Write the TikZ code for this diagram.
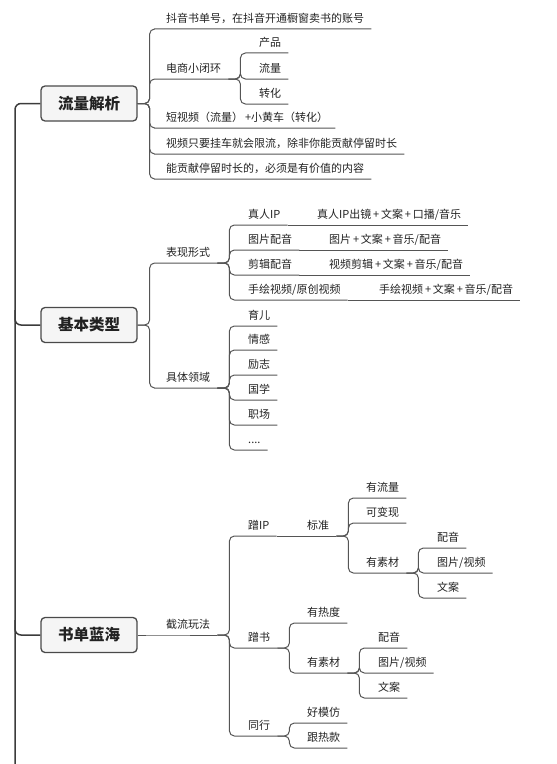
\documentclass[tikz,border=0pt]{standalone}
\usepackage{fontspec}
\setmainfont{Noto Sans CJK SC}
\usetikzlibrary{positioning}

\definecolor{txt}{HTML}{222222}
\definecolor{linec}{HTML}{555555}
\definecolor{spinec}{HTML}{3C3C3C}
\definecolor{boxfill}{HTML}{F5F5F5}
\definecolor{boxline}{HTML}{4A4A4A}

% branch from a parent anchor to a child topic
\newcommand\twig[2]{\draw[link] (#1) -- ++(12,0) |- (#2.south west) -- (#2.south east);}

\begin{document}
\begin{tikzpicture}[x=1bp,y=-1bp,
  topic/.style={anchor=south west,inner xsep=7bp,inner ysep=4bp,text height=9bp,text depth=2bp,
    font=\fontsize{11bp}{13bp}\selectfont,text=txt},
  mainbox/.style={draw=boxline,fill=boxfill,line width=1.3bp,rounded corners=4bp,
    minimum width=96bp,minimum height=35bp,inner sep=0pt,
    font=\fontsize{15.5bp}{18bp}\selectfont\bfseries,text=txt},
  link/.style={draw=linec,line width=1bp,rounded corners=5bp},
  spine/.style={draw=spinec,line width=1.5bp,rounded corners=6bp}]

\useasboundingbox (0,0) rectangle (557,764);

\coordinate (root) at (15,764);
\coordinate (j2) at (15,310);
\coordinate (j3) at (15,620);

\node[mainbox] (flow) at (89,103.5) {流量解析};
\node[mainbox] (basic) at (89,325) {基本类型};
\node[mainbox] (blue) at (89,635) {书单蓝海};

\draw[spine] (root) |- (flow.west);
\draw[spine] (j2) |- (basic.west);
\draw[spine] (j3) |- (blue.west);

% 流量解析
\node[topic] (acct) at (159,29) {抖音书单号，在抖音开通橱窗卖书的账号};
\node[topic] (loop) at (159,79) {电商小闭环};
\node[topic] (cart) at (159,128) {短视频（流量）\,+小黄车（转化）};
\node[topic] (limit) at (159,154) {视频只要挂车就会限流，除非你能贡献停留时长};
\node[topic] (value) at (159,179) {能贡献停留时长的，必须是有价值的内容};
\foreach \c in {acct,loop,cart,limit,value} \twig{flow.east}{\c};

\node[topic] (prod) at (252,53) {产品};
\node[topic] (traf) at (252,79) {流量};
\node[topic] (conv) at (252,104) {转化};
\foreach \c in {prod,traf,conv} \twig{loop.south east}{\c};

% 基本类型
\node[topic] (form) at (159,263) {表现形式};
\node[topic] (field) at (159,388) {具体领域};
\foreach \c in {form,field} \twig{basic.east}{\c};

\node[topic] (ip) at (241,225) {真人IP};
\node[topic] (pic) at (241,250) {图片配音};
\node[topic] (cut) at (241,275) {剪辑配音};
\node[topic] (hand) at (241,300) {手绘视频/原创视频};
\foreach \c in {ip,pic,cut,hand} \twig{form.south east}{\c};

\node[topic] (ipx) at (310,225) {真人IP出镜\,+\,文案\,+\,口播/音乐};
\node[topic] (picx) at (322,250) {图片\,+\,文案\,+\,音乐/配音};
\node[topic] (cutx) at (322,275) {视频剪辑\,+\,文案\,+\,音乐/配音};
\node[topic] (handx) at (372,300) {手绘视频\,+\,文案\,+\,音乐/配音};
\foreach \a/\b in {ip/ipx,pic/picx,cut/cutx,hand/handx}
  \draw[link] (\a.south east) -- (\b.south east);

\node[topic] (kid) at (241,326) {育儿};
\node[topic] (emo) at (241,350) {情感};
\node[topic] (insp) at (241,375) {励志};
\node[topic] (clas) at (241,400) {国学};
\node[topic] (work) at (241,425) {职场};
\node[topic] (more) at (241,450) {....};
\foreach \c in {kid,emo,insp,clas,work,more} \twig{field.south east}{\c};

% 书单蓝海
\node[topic] (grab) at (159,635) {截流玩法};
\draw[link] (blue.east) -- (grab.south west) -- (grab.south east);

\node[topic] (rideip) at (241,536) {蹭IP};
\node[topic] (ridebk) at (241,648) {蹭书};
\node[topic] (peer) at (241,736) {同行};
\foreach \c in {rideip,ridebk,peer} \twig{grab.south east}{\c};

\node[topic] (std) at (300,536) {标准};
\draw[link] (rideip.south east) -- (std.south east);

\node[topic] (hasflow) at (359,498) {有流量};
\node[topic] (cash) at (359,523) {可变现};
\node[topic] (mat) at (359,573) {有素材};
\foreach \c in {hasflow,cash,mat} \twig{std.south east}{\c};

\node[topic] (voice) at (430,548) {配音};
\node[topic] (media) at (430,573) {图片/视频};
\node[topic] (copy) at (430,598) {文案};
\foreach \c in {voice,media,copy} \twig{mat.south east}{\c};

\node[topic] (hot) at (300,623) {有热度};
\node[topic] (matb) at (300,673) {有素材};
\foreach \c in {hot,matb} \twig{ridebk.south east}{\c};

\node[topic] (voiceb) at (371,648) {配音};
\node[topic] (mediab) at (371,673) {图片/视频};
\node[topic] (copyb) at (371,698) {文案};
\foreach \c in {voiceb,mediab,copyb} \twig{matb.south east}{\c};

\node[topic] (mimic) at (300,723) {好模仿};
\node[topic] (trend) at (300,748) {跟热款};
\foreach \c in {mimic,trend} \twig{peer.south east}{\c};
\end{tikzpicture}
\end{document}
